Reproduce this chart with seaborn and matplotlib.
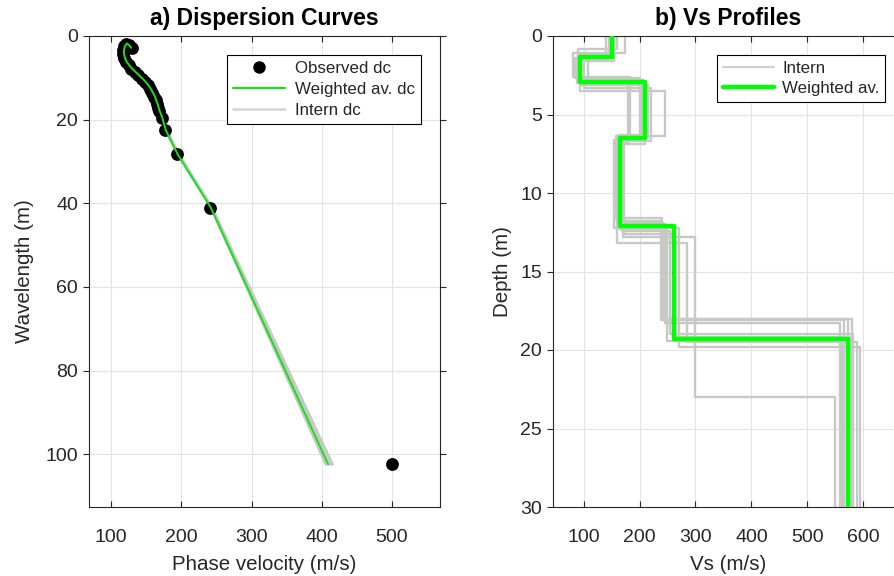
import numpy as np
import matplotlib
matplotlib.use("Agg")
import matplotlib.pyplot as plt
import seaborn as sns
from matplotlib.lines import Line2D

# ---------------- data ----------------
# a) dispersion curves
obs_wavelength = [2.8, 2.1, 1.8, 2.4, 3.3, 4.3, 5.3, 6.2, 7.0, 7.8, 8.6, 9.4, 10.2, 11.0,
                  11.8, 12.7, 13.6, 14.5, 15.4, 16.3, 17.2, 18.0, 19.5, 22.5, 28.3, 41.0, 102.4]
obs_velocity = [130, 126, 122, 119, 117.5, 117.5, 119, 121.5, 125, 129, 134, 139, 144, 149,
                153, 156, 159, 161.5, 163.5, 165.5, 167, 168.5, 172, 177, 194, 241, 500]
wavg_velocity = [128.5, 125.5, 122.5, 120, 118.5, 118.5, 120, 122.5, 126, 130, 135, 140, 145, 149.5,
                 153.5, 157, 160, 162.5, 164.5, 166.5, 168, 169.5, 173, 178, 195, 242, 409]
intern_velocity_1 = [129, 126, 123, 120.5, 119, 119, 120.5, 123, 126.5, 130.5, 135.5, 140.5, 145.5, 150,
                     154, 157.5, 160.5, 163, 165, 167, 168.5, 170, 173.5, 178.5, 196, 243, 412]
intern_velocity_2 = [128, 125, 122, 119.5, 118, 118, 119.5, 122, 125.5, 129.5, 134.5, 139.5, 144.5, 149,
                     153, 156.5, 159.5, 162, 164, 166, 167.5, 169, 172.5, 177.5, 195.5, 243.5, 415]
intern_velocity_3 = [129.5, 126.5, 123.5, 121, 119.5, 119.5, 121, 123.5, 127, 131, 136, 141, 146, 150.5,
                     154.5, 158, 161, 163.5, 165.5, 167.5, 169, 170.5, 174, 179, 196.5, 242.5, 406]
intern_dc = [intern_velocity_1, intern_velocity_2, intern_velocity_3]

# b) Vs profiles: layer interface depths (m) and layer velocities (m/s), last = half-space
max_depth = 30
wavg_interfaces = [1.32, 2.91, 6.52, 12.1, 19.3]
wavg_vs = [150, 94, 209, 165.5, 261, 572]
intern_interfaces = [
    [1.1, 2.6, 6.4, 11.6, 18.0],
    [1.5, 3.5, 6.4, 12.0, 18.3],
    [1.3, 2.9, 6.6, 12.4, 19.0],
    [0.8, 2.8, 6.8, 12.8, 23.0],
    [1.4, 3.0, 6.6, 12.2, 19.8],
    [1.3, 3.1, 6.5, 13.2, 19.5],
    [1.4, 2.7, 6.3, 11.8, 18.1],
    [1.6, 3.3, 6.7, 12.6, 19.2],
    [1.2, 2.8, 6.4, 11.9, 18.0],
    [1.3, 3.0, 6.9, 12.3, 19.4],
]
intern_vs = [
    [174, 82, 183, 158, 240, 572],
    [140, 94, 246, 162, 245, 558],
    [150, 108, 212, 168, 255, 582],
    [160, 90, 180, 170, 299, 549],
    [148, 88, 205, 155, 270, 594],
    [152, 96, 215, 160, 285, 588],
    [146, 85, 200, 164, 238, 566],
    [155, 100, 220, 172, 262, 576],
    [150, 90, 206, 160, 242, 580],
    [148, 92, 210, 163, 250, 562],
]

x_ticks_a = [100, 200, 300, 400, 500]
y_ticks_a = [0, 20, 40, 60, 80, 100]
x_ticks_b = [100, 200, 300, 400, 500, 600]
y_ticks_b = [0, 5, 10, 15, 20, 25, 30]


def step_profile(interfaces, vs, bottom):
    depth = [0.0]
    vel = []
    for h, v in zip(interfaces, vs[:-1]):
        vel += [v, v]
        depth += [h, h]
    vel += [vs[-1], vs[-1]]
    depth += [bottom]
    return vel, depth


# ---------------- style ----------------
sns.set_style("white")
plt.rcParams['font.family'] = ['Liberation Sans', 'DejaVu Sans']
GREEN = '#00ff00'
GRAY = '#c8c8c8'
AXC = '#262626'

fig = plt.figure(figsize=(8.95, 5.76), dpi=100)
ax1 = fig.add_axes([89 / 895, 69 / 576, 351 / 895, 471 / 576])
ax2 = fig.add_axes([553 / 895, 69 / 576, 351 / 895, 471 / 576])

# ---------------- a) dispersion curves ----------------
for iv in intern_dc:
    sns.lineplot(x=iv, y=obs_wavelength, sort=False, estimator=None, ax=ax1,
                 color=GRAY, linewidth=2.2, zorder=2)
sns.scatterplot(x=obs_velocity, y=obs_wavelength, ax=ax1, color='black', s=85,
                edgecolor='black', linewidth=0, zorder=3)
sns.lineplot(x=wavg_velocity, y=obs_wavelength, sort=False, estimator=None, ax=ax1,
             color='#18e018', linewidth=1.4, zorder=4)

ax1.set_xlim(68.7, 568.3)
ax1.set_ylim(112.6, 0)
ax1.set_xticks(x_ticks_a)
ax1.set_yticks(y_ticks_a)
ax1.set_title("a) Dispersion Curves", fontsize=16.5, fontweight='bold', pad=8, color='black')
ax1.set_xlabel("Phase velocity (m/s)", fontsize=14.8, color=AXC, labelpad=6)
ax1.set_ylabel("Wavelength (m)", fontsize=14.8, color=AXC, labelpad=8)

h1 = [Line2D([], [], marker='o', color='black', linestyle='none', markersize=8),
      Line2D([], [], color='#18e018', linewidth=1.6),
      Line2D([], [], color='#d8d8d8', linewidth=2)]
leg1 = ax1.legend(h1, ["Observed dc", "Weighted av. dc", "Intern dc"], loc='upper right',
                  fontsize=12.2, handlelength=3.1, frameon=True, fancybox=False,
                  framealpha=1, edgecolor='black', borderaxespad=1.1,
                  labelspacing=0.36, borderpad=0.35, handletextpad=0.6)
leg1.get_frame().set_linewidth(0.8)

# ---------------- b) Vs profiles ----------------
for ints, vs in zip(intern_interfaces, intern_vs):
    v, d = step_profile(ints, vs, max_depth)
    sns.lineplot(x=v, y=d, sort=False, estimator=None, ax=ax2, color=GRAY,
                 linewidth=1.7, zorder=2)
v, d = step_profile(wavg_interfaces, wavg_vs, max_depth)
sns.lineplot(x=v, y=d, sort=False, estimator=None, ax=ax2, color=GREEN,
             linewidth=3.2, zorder=4)

ax2.set_xlim(45.4, 672.7)
ax2.set_ylim(30, 0)
ax2.set_xticks(x_ticks_b)
ax2.set_yticks(y_ticks_b)
ax2.set_title("b) Vs Profiles", fontsize=16.5, fontweight='bold', pad=8, color='black')
ax2.set_xlabel("Vs (m/s)", fontsize=14.8, color=AXC, labelpad=6)
ax2.set_ylabel("Depth (m)", fontsize=14.8, color=AXC, labelpad=6)

h2 = [Line2D([], [], color='#d0d0d0', linewidth=1.6),
      Line2D([], [], color=GREEN, linewidth=3.2)]
leg2 = ax2.legend(h2, ["Intern", "Weighted av."], loc='upper right',
                  fontsize=12.2, handlelength=3.0, frameon=True, fancybox=False,
                  framealpha=1, edgecolor='black', borderaxespad=1.1,
                  labelspacing=0.32, borderpad=0.35, handletextpad=0.5)
leg2.get_frame().set_linewidth(0.8)

for ax in (ax1, ax2):
    ax.set_axisbelow(True)
    ax.grid(True, color='#e3e3e3', linewidth=0.8)
    for sp in ax.spines.values():
        sp.set_visible(True)
        sp.set_color(AXC)
        sp.set_linewidth(0.8)
    ax.tick_params(axis='x', direction='in', length=4, width=0.8, colors=AXC,
                   labelsize=14, top=True, bottom=True, pad=16, labelcolor=AXC)
    ax.tick_params(axis='y', direction='out', length=4, width=0.8, colors=AXC,
                   labelsize=14, left=True, right=True, pad=4, labelcolor=AXC)

fig.savefig("out.png", dpi=100)
